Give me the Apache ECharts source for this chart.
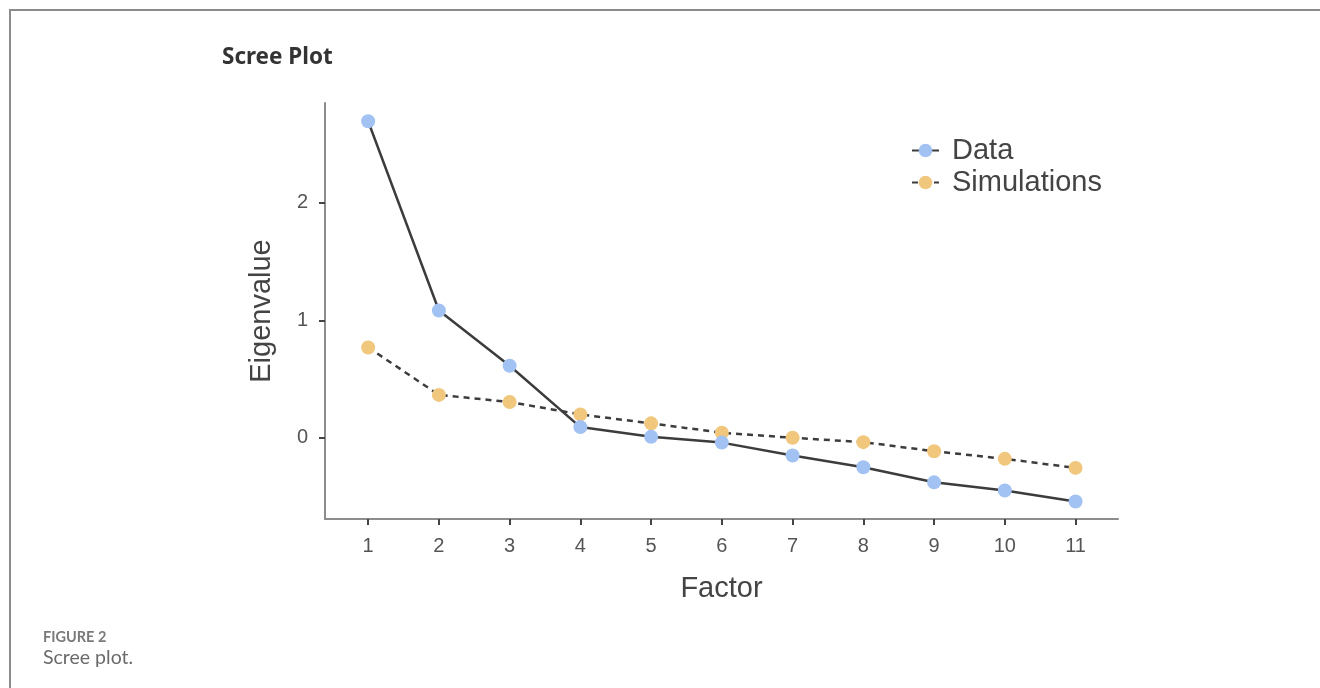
<!DOCTYPE html>
<html>
<head>
<meta charset="utf-8">
<title>Scree Plot</title>
<script src="https://cdn.jsdelivr.net/npm/echarts@6/dist/echarts.min.js"></script>
<style>
  html, body { margin: 0; padding: 0; background: #fff; }
  #frame {
    position: absolute; left: 9px; top: 9px; width: 1320px; height: 690px;
    border-top: 2px solid #8c8c8c; border-left: 2px solid #8c8c8c;
  }
  #chart { position: absolute; left: 0; top: 0; width: 1320px; height: 688px; }
</style>
</head>
<body>
<div id="frame"></div>
<div id="chart"></div>
<script>
// factor number on the x axis
var factors = [1, 2, 3, 4, 5, 6, 7, 8, 9, 10, 11];
// eigenvalues
var dataValues = [2.695, 1.084, 0.614, 0.092, 0.009, -0.04, -0.15, -0.25, -0.378, -0.448, -0.541];
var simValues = [0.77, 0.366, 0.306, 0.2, 0.124, 0.044, 0.001, -0.036, -0.113, -0.178, -0.255];
// tick labels
var xTicks = [1, 2, 3, 4, 5, 6, 7, 8, 9, 10, 11];
var yTicks = [0, 1, 2];

function pairs(vals) {
  return factors.map(function (f, i) { return [f, vals[i]]; });
}

var myChart = echarts.init(document.getElementById('chart'));
var option = {
  backgroundColor: 'transparent',
  animation: false,
  title: [
    {
      text: 'Scree Plot',
      left: 222, top: 46, padding: 0,
      textStyle: { fontFamily: 'Noto Sans', fontWeight: 'bold', fontSize: 22.5, color: '#333' }
    },
    {
      text: 'FIGURE 2',
      left: 43, top: 630, padding: 0,
      textStyle: { fontFamily: 'Lato', fontWeight: 'bold', fontSize: 14.5, color: '#7a7a7a' }
    },
    {
      text: 'Scree plot.',
      left: 43, top: 648, padding: 0,
      textStyle: { fontFamily: 'Lato', fontWeight: 'normal', fontSize: 19.5, color: '#6a6a6a' }
    }
  ],
  legend: {
    orient: 'vertical',
    left: 906, top: 131,
    itemWidth: 27, itemHeight: 17,
    itemGap: 3,
    textStyle: { fontFamily: 'Liberation Sans', fontSize: 29, lineHeight: 28, color: '#444', padding: [0, 0, 0, 8] },
    data: ['Data', 'Simulations']
  },
  grid: { left: 325, right: 202, top: 103, bottom: 169 },
  xAxis: {
    type: 'value',
    min: 0.39, max: 11.6,
    name: 'Factor',
    nameLocation: 'middle',
    nameGap: 55,
    nameTextStyle: { fontFamily: 'Liberation Sans', fontSize: 29, color: '#444' },
    axisLine: { show: true, onZero: false, lineStyle: { color: '#8c8c8c', width: 2 } },
    axisTick: { show: true, length: 6, customValues: xTicks, lineStyle: { color: '#444', width: 2 } },
    axisLabel: { customValues: xTicks, margin: 17, fontFamily: 'Liberation Sans', fontSize: 20, color: '#555' },
    splitLine: { show: false }
  },
  yAxis: {
    type: 'value',
    min: -0.69, max: 2.85,
    name: 'Eigenvalue',
    nameLocation: 'middle',
    nameGap: 49,
    nameTextStyle: { fontFamily: 'Liberation Sans', fontSize: 29, color: '#444' },
    axisLine: { show: true, onZero: false, lineStyle: { color: '#8c8c8c', width: 2 } },
    axisTick: { show: true, length: 6, customValues: yTicks, lineStyle: { color: '#444', width: 2 } },
    axisLabel: { customValues: yTicks, margin: 17, fontFamily: 'Liberation Sans', fontSize: 20, color: '#555' },
    splitLine: { show: false }
  },
  series: [
    {
      name: 'Simulations',
      type: 'line',
      data: pairs(simValues),
      symbol: 'circle',
      symbolSize: 14,
      itemStyle: { color: '#f0c77d' },
      lineStyle: { color: '#3c3c3c', width: 2.5, type: [6, 5] },
      z: 2
    },
    {
      name: 'Data',
      type: 'line',
      data: pairs(dataValues),
      symbol: 'circle',
      symbolSize: 14,
      itemStyle: { color: '#a1c2f2' },
      lineStyle: { color: '#3c3c3c', width: 2.5 },
      z: 3
    }
  ]
};
myChart.setOption(option);
</script>
</body>
</html>
